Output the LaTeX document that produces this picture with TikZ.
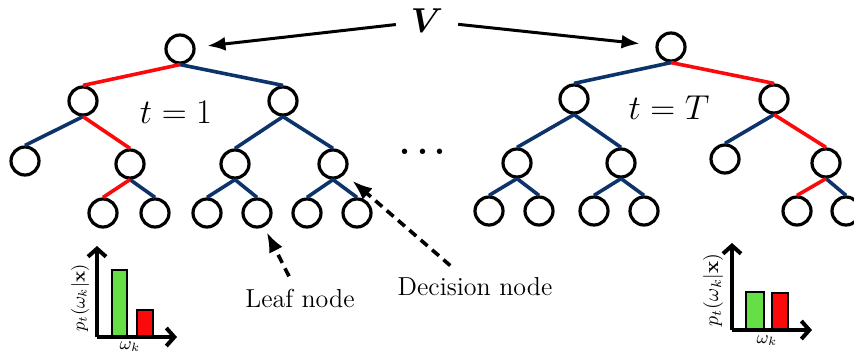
\documentclass[tikz,border=0pt]{standalone}
\usepackage{amsmath}
\usepackage{bm}
\usepackage{tikz}
\definecolor{pathred}{rgb}{0.98,0.04,0.04}
\definecolor{darkblue}{rgb}{0.05,0.2,0.42}
\definecolor{lightgreen}{rgb}{0.4,0.87,0.27}
\usetikzlibrary{arrows, arrows.meta, positioning, shapes}
\tikzstyle{tnode} = [draw, circle, fill=white, line width=1.6pt, minimum size=14pt, inner sep=0pt]
\tikzstyle{blue edge} = [darkblue, line width=1.8pt]
\tikzstyle{red edge} = [pathred, line width=1.8pt]
\tikzstyle{arrow} = [arrows={-Latex[length=9pt, width=7pt]}, black, line width=1.5pt]
\tikzstyle{dasharrow} = [arrows={-Latex[length=10pt, width=7.5pt]}, black, line width=1.8pt, dash pattern=on 4.5pt off 3pt]
\tikzstyle{axis} = [arrows={-Straight Barb[length=4pt, width=9pt]}, black, line width=2pt]
\tikzstyle{bar} = [draw, line width=1.3pt]

\begin{document}
\begin{tikzpicture}[x=0.5pt, y=-0.5pt]
    \useasboundingbox (0,0) rectangle (854,354);

    % Place the two trees
    \foreach \name/\x/\y in {l0/180/49, l1/83/101, l2/283/101, l3/25/161, l4/130/164,
        l5/235/164, l6/333/164, l7/103/213, l8/155/213, l9/207/213, l10/257/213,
        l11/307/213, l12/357/213,
        r0/671/47, r1/574/99, r2/774/99, r3/517/163, r4/621/163, r5/725/159,
        r6/826/163, r7/489/211, r8/539/211, r9/594/211, r10/644/211, r11/797/211,
        r12/846/211}
        \node [tnode] (\name) at (\x,\y) {};

    % Connect the nodes
    \foreach \a/\b in {l0/l2, l1/l3, l4/l8, l2/l5, l2/l6, l5/l9, l5/l10, l6/l11, l6/l12,
        r0/r1, r1/r3, r1/r4, r2/r5, r3/r7, r3/r8, r4/r9, r4/r10, r6/r12}
        \draw [blue edge] (\a.south) -- (\b.north);
    \foreach \a/\b in {l0/l1, l1/l4, l4/l7, r0/r2, r2/r6, r6/r11}
        \draw [red edge] (\a.south) -- (\b.north);

    % Labels
    \node (V) at (427,21) {\fontsize{17}{20}\selectfont$\bm{V}$};
    \node (t1) at (176,112) {\fontsize{16.5}{20}\selectfont$t=1$};
    \node (tT) at (669,108) {\fontsize{16.5}{20}\selectfont$t=T$};
    \node (dots) at (426,152) {\fontsize{17}{20}\selectfont$\bm{\cdots}$};
    \node (leaf) at (300,298) {\fontsize{13}{16}\selectfont Leaf node};
    \node (decision) at (475,287) {\fontsize{13}{16}\selectfont Decision node};

    \draw [arrow, shorten <=4pt, shorten >=6pt] (V) -- (l0);
    \draw [arrow, shorten <=4pt, shorten >=8pt] (V) -- (r0);
    \draw [dasharrow, shorten <=3pt, shorten >=3pt] (leaf) -- (l10);
    \draw [dasharrow, shorten <=4pt, shorten >=5pt] (decision) -- (l6);

    % Histograms
    \draw [bar, fill=lightgreen] (112,337) rectangle (127,270);
    \draw [bar, fill=pathred] (137,337) rectangle (153,310);
    \coordinate (o1) at (97,337);
    \draw [axis] (o1) -- (97,246);
    \draw [axis] (o1) -- (177,337);
    \node [rotate=90] (p1) at (80,298) {\small$p_t(\omega_k|\mathbf{x})$};
    \node (w1) at (130,347) {\small$\omega_k$};

    \draw [bar, fill=lightgreen] (746,330) rectangle (764,292);
    \draw [bar, fill=pathred] (772,330) rectangle (788,293);
    \coordinate (o2) at (732,330);
    \draw [axis] (o2) -- (732,243);
    \draw [axis] (o2) -- (812,330);
    \node [rotate=90] (p2) at (713,290) {$p_t(\omega_k|\mathbf{x})$};
    \node (w2) at (767,341) {\small$\omega_k$};
\end{tikzpicture}
\end{document}
